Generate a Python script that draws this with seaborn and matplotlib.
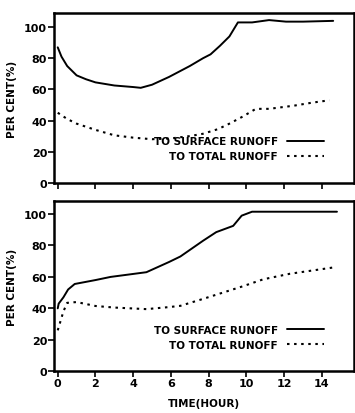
import numpy as np
import pandas as pd
import matplotlib
matplotlib.use("Agg")
import matplotlib.pyplot as plt
import seaborn as sns

sns.set_style("ticks")
plt.rcParams['font.family'] = ['DejaVu Sans']
plt.rcParams['font.weight'] = 'bold'
for k in ['axes.edgecolor', 'axes.labelcolor', 'text.color', 'xtick.color', 'ytick.color']:
    plt.rcParams[k] = 'black'

# Top panel data
top_surf_x = [0.0, 0.2, 0.5, 1.0, 1.5, 2.0, 3.0, 4.0, 4.4, 5.0, 5.9, 7.0, 7.7, 8.1, 8.6, 9.1, 9.55, 10.3, 11.2, 12.1, 13.0, 14.6]
top_surf_y = [87, 81, 75, 69, 66.5, 64.5, 62.5, 61.5, 61, 63, 68, 75, 80, 82.5, 88, 94, 103, 103, 104.5, 103.5, 103.5, 104]
top_total_x = [0.0, 0.5, 1.0, 2.0, 3.0, 4.0, 5.0, 6.0, 7.0, 7.7, 8.5, 9.1, 9.8, 10.5, 11.2, 12.5, 13.5, 14.4]
top_total_y = [45, 41, 38, 34, 30.5, 29, 28, 28.5, 30, 31.5, 34.5, 38, 42.5, 47.5, 47.5, 49.5, 51.5, 53]

# Bottom panel data
bot_surf_x = [0.0, 0.05, 0.3, 0.55, 0.9, 2.0, 2.8, 4.7, 5.9, 6.5, 7.7, 8.4, 9.3, 9.75, 10.3, 12.0, 14.8]
bot_surf_y = [40, 43, 47, 52, 55.5, 58, 60, 63, 69.5, 73, 83, 88.5, 92.5, 99, 101.5, 101.5, 101.5]
bot_total_x = [0.0, 0.1, 0.3, 0.5, 1.0, 2.0, 3.0, 4.7, 5.9, 6.5, 7.7, 8.75, 9.8, 10.9, 12.3, 14.6]
bot_total_y = [26, 30, 38, 43.5, 44, 41.5, 40.5, 39.5, 40.8, 41.6, 46, 50, 54, 58.5, 62, 66]

series_labels = ["TO SURFACE RUNOFF", "TO TOTAL RUNOFF"]
x_ticks = [0, 2, 4, 6, 8, 10, 12, 14]
y_ticks = [0, 20, 40, 60, 80, 100]

fig = plt.figure(figsize=(3.55, 4.14), dpi=100)
ax1 = fig.add_axes([0.152, 0.556, 0.845, 0.410])
ax2 = fig.add_axes([0.152, 0.101, 0.845, 0.411])

def panel(ax, sx, sy, tx, ty, ytop, show_x):
    df1 = pd.DataFrame({"x": sx, "y": sy})
    df2 = pd.DataFrame({"x": tx, "y": ty})
    sns.lineplot(data=df1, x="x", y="y", ax=ax, color="black", lw=1.4,
                 label=series_labels[0], estimator=None, sort=False)
    sns.lineplot(data=df2, x="x", y="y", ax=ax, color="black", lw=1.5,
                 linestyle=(0, (1.2, 2.2)), label=series_labels[1], estimator=None, sort=False)
    ax.set_xlim(-0.2, 15.7)
    ax.set_ylim(0, ytop)
    ax.set_xticks(x_ticks)
    ax.set_yticks(y_ticks)
    ax.tick_params(direction="out", length=4, width=1.2, labelsize=8, pad=1)
    for lab in ax.get_xticklabels() + ax.get_yticklabels():
        lab.set_fontweight("bold")
    if not show_x:
        ax.set_xticklabels([])
        ax.set_xlabel("")
    else:
        ax.set_xlabel("TIME(HOUR)", fontsize=7.5, fontweight="bold", labelpad=7)
    ax.set_ylabel("PER CENT(%)", fontsize=7.5, fontweight="bold", labelpad=5)
    for s in ax.spines.values():
        s.set_linewidth(1.8)
        s.set_visible(True)
    ax.legend(loc="center right", bbox_to_anchor=(0.93, 0.2), frameon=False,
              markerfirst=False, handlelength=3.5, handletextpad=0.9,
              labelspacing=0.5, prop={"size": 7.5, "weight": "bold"})

panel(ax1, top_surf_x, top_surf_y, top_total_x, top_total_y, 109, False)
panel(ax2, bot_surf_x, bot_surf_y, bot_total_x, bot_total_y, 108.3, True)

fig.savefig("out.png", dpi=100)
